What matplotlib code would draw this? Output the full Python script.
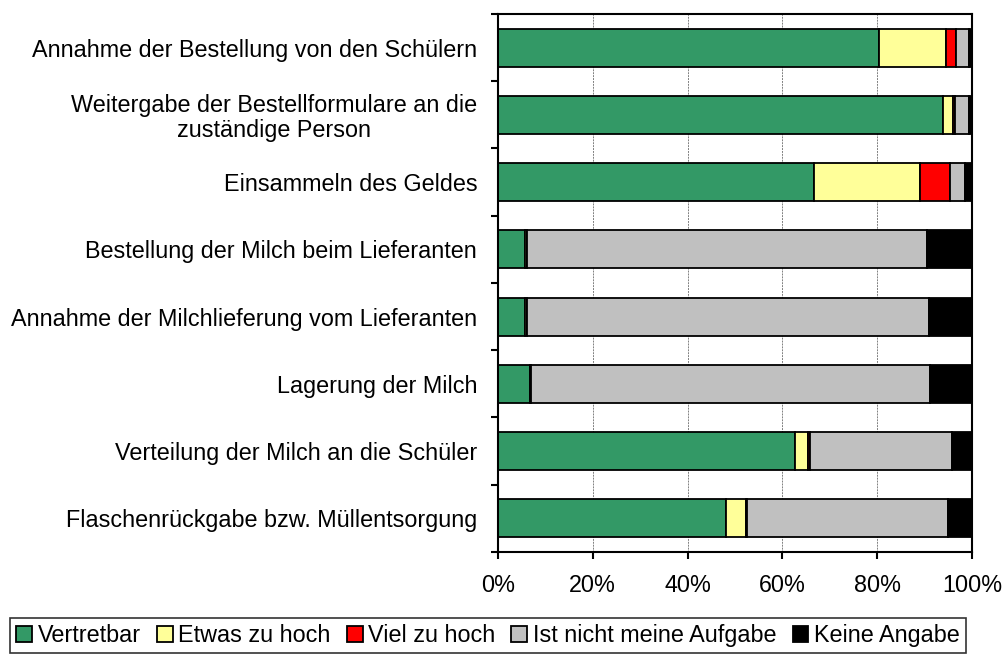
import numpy as np
import matplotlib
matplotlib.use('Agg')
import matplotlib.pyplot as plt
import matplotlib.ticker as ticker

plt.rcParams['font.family'] = ['Liberation Sans', 'DejaVu Sans']

# categories, top to bottom
categories = [
    'Annahme der Bestellung von den Schülern',
    'Weitergabe der Bestellformulare an die\nzuständige Person',
    'Einsammeln des Geldes',
    'Bestellung der Milch beim Lieferanten',
    'Annahme der Milchlieferung vom Lieferanten',
    'Lagerung der Milch',
    'Verteilung der Milch an die Schüler',
    'Flaschenrückgabe bzw. Müllentsorgung',
]

# shares in percent
vertretbar = [80.4, 93.9, 66.6, 5.8, 5.8, 6.7, 62.7, 48.1]
etwas_zu_hoch = [14.1, 2.2, 22.5, 0.3, 0.3, 0.3, 2.8, 4.2]
viel_zu_hoch = [2.2, 0.4, 6.3, 0.0, 0.0, 0.0, 0.3, 0.3]
nicht_meine = [2.7, 2.8, 3.2, 84.5, 84.8, 84.2, 30.1, 42.3]
keine_angabe = [0.6, 0.7, 1.4, 9.4, 9.1, 8.8, 4.1, 5.1]

series = [vertretbar, etwas_zu_hoch, viel_zu_hoch, nicht_meine, keine_angabe]
names = ['Vertretbar', 'Etwas zu hoch', 'Viel zu hoch',
         'Ist nicht meine Aufgabe', 'Keine Angabe']
colors = ['#339966', '#FFFF99', '#FF0000', '#C0C0C0', '#000000']

fs = 16.8

fig = plt.figure(figsize=(10.05, 6.54), dpi=100)
ax = fig.add_axes([0.4955, 0.156, 0.4715, 0.8226])

y = np.arange(len(categories))
left = np.zeros(len(categories))
handles = []
for vals, name, col in zip(series, names, colors):
    vals = np.array(vals)
    b = ax.barh(y, vals, left=left, height=0.565, color=col,
                edgecolor='black', linewidth=1.3, label=name)
    handles.append(b)
    left += vals

ax.set_xlim(0, 100)
ax.set_ylim(len(categories) - 0.5, -0.5)

# grid
ax.set_axisbelow(True)
ax.xaxis.grid(True, linestyle=(0, (2, 1)), color='#808080', linewidth=0.7)

ax.xaxis.set_major_locator(ticker.MultipleLocator(20))
ax.xaxis.set_major_formatter(ticker.FuncFormatter(lambda v, _: '{:.0f}%'.format(v)))
ax.tick_params(axis='x', direction='out', length=5, width=1.5, labelsize=fs, pad=11)

ax.set_yticks(y)
ax.set_yticklabels(categories, fontsize=fs, ha='right', multialignment='center',
                   linespacing=1.1)
ax.tick_params(axis='y', which='major', length=0, pad=15)
ax.set_yticks(np.arange(-0.5, len(categories)), minor=True)
ax.tick_params(axis='y', which='minor', direction='out', length=5, width=1.5)

for s in ax.spines.values():
    s.set_linewidth(1.5)

leg = fig.legend(handles=handles, loc='lower center', bbox_to_anchor=(0.4856, 0.002),
                 ncol=5, fontsize=fs, frameon=True, fancybox=False,
                 handlelength=0.68, handleheight=0.68, handletextpad=0.25, columnspacing=0.68,
                 borderpad=0.25, borderaxespad=0)
leg.get_frame().set_edgecolor('black')
leg.get_frame().set_linewidth(1.2)

fig.savefig('out.png', dpi=100)
